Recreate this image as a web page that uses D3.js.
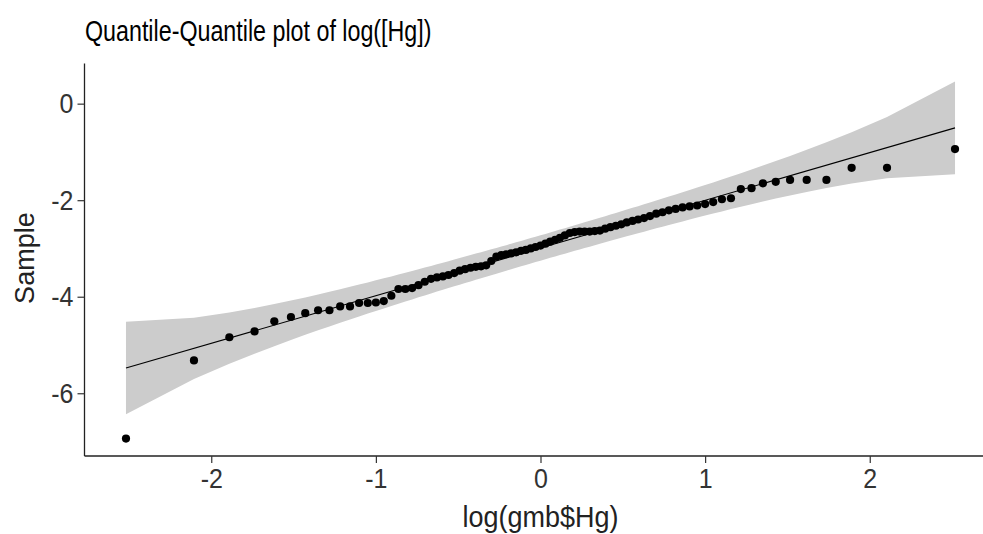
<!DOCTYPE html>
<html>
<head>
<meta charset="utf-8">
<script src="https://cdn.jsdelivr.net/npm/d3@7"></script>
<style>
  body { margin: 0; background: #fff; }
  text { font-family: "Liberation Sans", Arial, sans-serif; }
</style>
</head>
<body>
<svg id="chart" width="983" height="534"></svg>
<script>
// theoretical normal quantiles (x) and sorted sample values (y)
const theoretical = [-2.518, -2.105, -1.890, -1.737, -1.617, -1.516, -1.429, -1.351, -1.282, -1.217,
  -1.157, -1.102, -1.049, -1.000, -0.952, -0.906, -0.863, -0.821, -0.780, -0.741,
  -0.703, -0.665, -0.629, -0.593, -0.559, -0.524, -0.491, -0.458, -0.425, -0.393,
  -0.361, -0.330, -0.299, -0.268, -0.238, -0.208, -0.178, -0.148, -0.118, -0.089,
  -0.059, -0.030, 0, 0.030, 0.059, 0.089, 0.118, 0.148, 0.178, 0.208,
  0.238, 0.268, 0.299, 0.330, 0.361, 0.393, 0.425, 0.458, 0.491, 0.524,
  0.559, 0.593, 0.629, 0.665, 0.703, 0.741, 0.780, 0.821, 0.863, 0.906,
  0.952, 1.000, 1.049, 1.102, 1.157, 1.217, 1.282, 1.351, 1.429, 1.516,
  1.617, 1.737, 1.890, 2.105, 2.518];

const sample = [-6.94, -5.32, -4.84, -4.72, -4.51, -4.42, -4.34, -4.28, -4.28, -4.20,
  -4.20, -4.13, -4.13, -4.12, -4.09, -3.98, -3.84, -3.84, -3.82, -3.76,
  -3.69, -3.63, -3.60, -3.58, -3.55, -3.51, -3.46, -3.43, -3.40, -3.38,
  -3.37, -3.35, -3.26, -3.17, -3.14, -3.12, -3.10, -3.08, -3.05, -3.03,
  -3.00, -2.97, -2.94, -2.90, -2.86, -2.82, -2.78, -2.73, -2.68, -2.66,
  -2.65, -2.65, -2.65, -2.64, -2.63, -2.59, -2.56, -2.53, -2.50, -2.46,
  -2.43, -2.40, -2.37, -2.33, -2.28, -2.25, -2.21, -2.18, -2.15, -2.13,
  -2.11, -2.08, -2.04, -1.98, -1.96, -1.77, -1.75, -1.65, -1.62, -1.58,
  -1.58, -1.58, -1.33, -1.33, -0.94];

// pointwise confidence band, lower and upper edge at each theoretical quantile
const bandLower = [-6.437, -5.705, -5.388, -5.179, -5.024, -4.897, -4.790, -4.697, -4.615, -4.540,
  -4.471, -4.410, -4.349, -4.295, -4.243, -4.191, -4.145, -4.099, -4.056, -4.013,
  -3.973, -3.933, -3.894, -3.857, -3.821, -3.785, -3.750, -3.717, -3.682, -3.649,
  -3.617, -3.585, -3.553, -3.522, -3.491, -3.461, -3.431, -3.400, -3.371, -3.341,
  -3.311, -3.282, -3.253, -3.224, -3.195, -3.167, -3.137, -3.108, -3.079, -3.049,
  -3.021, -2.992, -2.963, -2.933, -2.903, -2.873, -2.842, -2.811, -2.780, -2.749,
  -2.717, -2.685, -2.652, -2.619, -2.583, -2.549, -2.514, -2.477, -2.439, -2.401,
  -2.361, -2.319, -2.277, -2.232, -2.185, -2.136, -2.083, -2.027, -1.966, -1.901,
  -1.828, -1.747, -1.654, -1.545, -1.461];

const bandUpper = [-4.519, -4.435, -4.326, -4.233, -4.152, -4.079, -4.014, -3.953, -3.897, -3.844,
  -3.795, -3.748, -3.703, -3.661, -3.619, -3.579, -3.541, -3.503, -3.466, -3.431,
  -3.397, -3.361, -3.328, -3.295, -3.263, -3.231, -3.200, -3.169, -3.138, -3.107,
  -3.077, -3.047, -3.017, -2.988, -2.959, -2.931, -2.901, -2.872, -2.843, -2.813,
  -2.785, -2.756, -2.727, -2.698, -2.669, -2.639, -2.609, -2.580, -2.549, -2.519,
  -2.489, -2.458, -2.427, -2.395, -2.363, -2.331, -2.298, -2.263, -2.230, -2.195,
  -2.159, -2.123, -2.086, -2.047, -2.007, -1.967, -1.924, -1.881, -1.835, -1.789,
  -1.737, -1.685, -1.631, -1.570, -1.509, -1.440, -1.365, -1.283, -1.190, -1.083,
  -0.956, -0.801, -0.592, -0.275, 0.457];

// reference line through the quartiles
const lineX = [-2.518, 2.518];
const lineY = [-5.478, -0.502];

const xTicks = [-2, -1, 0, 1, 2];
const yTicks = [0, -2, -4, -6];

const titleText = 'Quantile-Quantile plot of log([Hg])';
const xLabel = 'log(gmb$Hg)';
const yLabel = 'Sample';

const svg = d3.select('#chart');

const x = d3.scaleLinear().domain([-2.77, 2.77]).range([84.5, 996.5]);
const y = d3.scaleLinear().domain([-7.3, 0.83]).range([456, 63.6]);

const stretch = 1.12; // text in the picture is a bit taller than wide

const band = theoretical.map((t, i) => ({ t: t, lo: bandLower[i], hi: bandUpper[i] }));
const points = theoretical.map((t, i) => ({ t: t, s: sample[i] }));

// band
svg.append('path')
  .datum(band)
  .attr('fill', '#cccccc')
  .attr('d', d3.area()
    .x(d => x(d.t))
    .y0(d => y(d.lo))
    .y1(d => y(d.hi)));

// qq line
svg.append('path')
  .datum(lineX.map((v, i) => [v, lineY[i]]))
  .attr('fill', 'none')
  .attr('stroke', '#000')
  .attr('stroke-width', 1.1)
  .attr('d', d3.line().x(d => x(d[0])).y(d => y(d[1])));

// points
svg.append('g')
  .selectAll('circle')
  .data(points)
  .join('circle')
  .attr('cx', d => x(d.t))
  .attr('cy', d => y(d.s))
  .attr('r', 4.1)
  .attr('fill', '#000');

// axes
const xAxis = svg.append('g')
  .attr('transform', 'translate(0,' + y.range()[0] + ')')
  .call(d3.axisBottom(x).tickValues(xTicks).tickSize(7).tickPadding(5).tickFormat(d => String(d)));

const yAxis = svg.append('g')
  .attr('transform', 'translate(' + x.range()[0] + ',0)')
  .call(d3.axisLeft(y).tickValues(yTicks).tickSize(7).tickPadding(4).tickFormat(d => String(d)));

[xAxis, yAxis].forEach(ax => {
  ax.select('.domain').attr('stroke', '#222').attr('stroke-width', 1.3);
  ax.selectAll('.tick line').attr('stroke', '#333').attr('stroke-width', 1.2);
  ax.selectAll('.tick text')
    .attr('fill', '#333')
    .style('font-family', '"Liberation Sans", Arial, sans-serif')
    .style('font-size', '25px');
});
xAxis.selectAll('.tick text')
  .attr('y', 12 / stretch)
  .attr('transform', 'scale(1,' + stretch + ')');
yAxis.selectAll('.tick text')
  .attr('transform', 'scale(1,' + stretch + ')');

// domains without end caps
xAxis.select('.domain').attr('d', 'M' + x.range()[0] + ',0H' + x.range()[1]);
yAxis.select('.domain').attr('d', 'M0,' + y.range()[1] + 'V' + y.range()[0]);

// labels
svg.append('text')
  .attr('transform', 'translate(85,41) scale(0.95,1.2)')
  .attr('fill', '#000')
  .style('font-size', '24.5px')
  .text(titleText);

svg.append('text')
  .attr('transform', 'translate(' + x(0) + ',527) scale(1,' + stretch + ')')
  .attr('text-anchor', 'middle')
  .attr('fill', '#222')
  .style('font-size', '27px')
  .text(xLabel);

svg.append('text')
  .attr('transform', 'translate(34,' + y(-3.2) + ') rotate(-90)')
  .attr('text-anchor', 'middle')
  .attr('fill', '#222')
  .style('font-size', '27px')
  .text(yLabel);
</script>
</body>
</html>
